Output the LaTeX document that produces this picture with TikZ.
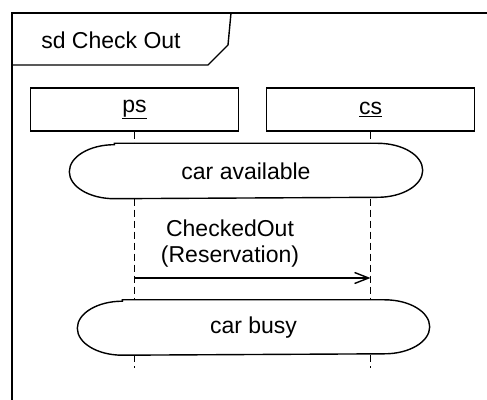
\documentclass[tikz,border=0pt]{standalone}
\usepackage{fontspec}
\setmainfont{Liberation Sans}
\usetikzlibrary{arrows.meta,positioning,calc}

% outline of a state: long box with half-ellipse ends
\newcommand{\stateoutline}[1]{%
  \draw ($(#1.north west)+(45,0)$) -- ($(#1.north east)+(-45,0)$)
    arc[start angle=90,end angle=-90,x radius=45,y radius=27]
    -- ($(#1.south west)+(45,0)$)
    arc[start angle=270,end angle=90,x radius=45,y radius=27] -- cycle;}

\begin{document}
\begin{tikzpicture}[x=1pt,y=1pt,line width=1.4pt,
    font=\fontsize{23}{26}\selectfont,
    objbox/.style={draw,minimum width=208pt,minimum height=43pt,inner sep=0pt},
    statebox/.style={minimum height=54pt,inner sep=0pt},
    lifeline/.style={line width=1.2pt,dash pattern=on 7pt off 4pt},
    msg/.style={-{Straight Barb[length=14pt,width=11pt]}}]
  \useasboundingbox (0,0) rectangle (487,399);
  % Frame
  \draw (12,-5) -- (12,386) -- (495,386);
  \draw (12,334) -- (208,334) -- (228,354) -- (231,386);
  \node (title) at (111,359) {sd Check Out};
  % Objects
  \node[objbox] (ps) at (134.5,289.5) {\underline{ps}};
  \node[objbox] (cs) at (370.5,289.5) {\underline{cs}};
  % States
  \node[statebox,minimum width=352pt] (avail) at (246,228) {car available};
  \node[statebox,minimum width=351pt] (busy) at (253.5,71.5) {car busy};
  \stateoutline{avail}
  \stateoutline{busy}
  % Lifelines
  \coordinate (psend) at (134,31);
  \coordinate (csend) at (370,31);
  \draw[lifeline] (ps.south) -- (ps.south |- avail.north);
  \draw[lifeline] (ps.south |- avail.south) -- (ps.south |- busy.north);
  \draw[lifeline] (ps.south |- busy.south) -- (ps.south |- psend);
  \draw[lifeline] (cs.south) -- (cs.south |- avail.north);
  \draw[lifeline] (cs.south |- avail.south) -- (cs.south |- busy.north);
  \draw[lifeline] (cs.south |- busy.south) -- (cs.south |- csend);
  % Message
  \draw[msg] (ps.south |- 0,121) -- (cs.south |- 0,121);
  \node[align=center] (label) at (230,155) {CheckedOut\\(Reservation)};
\end{tikzpicture}
\end{document}
